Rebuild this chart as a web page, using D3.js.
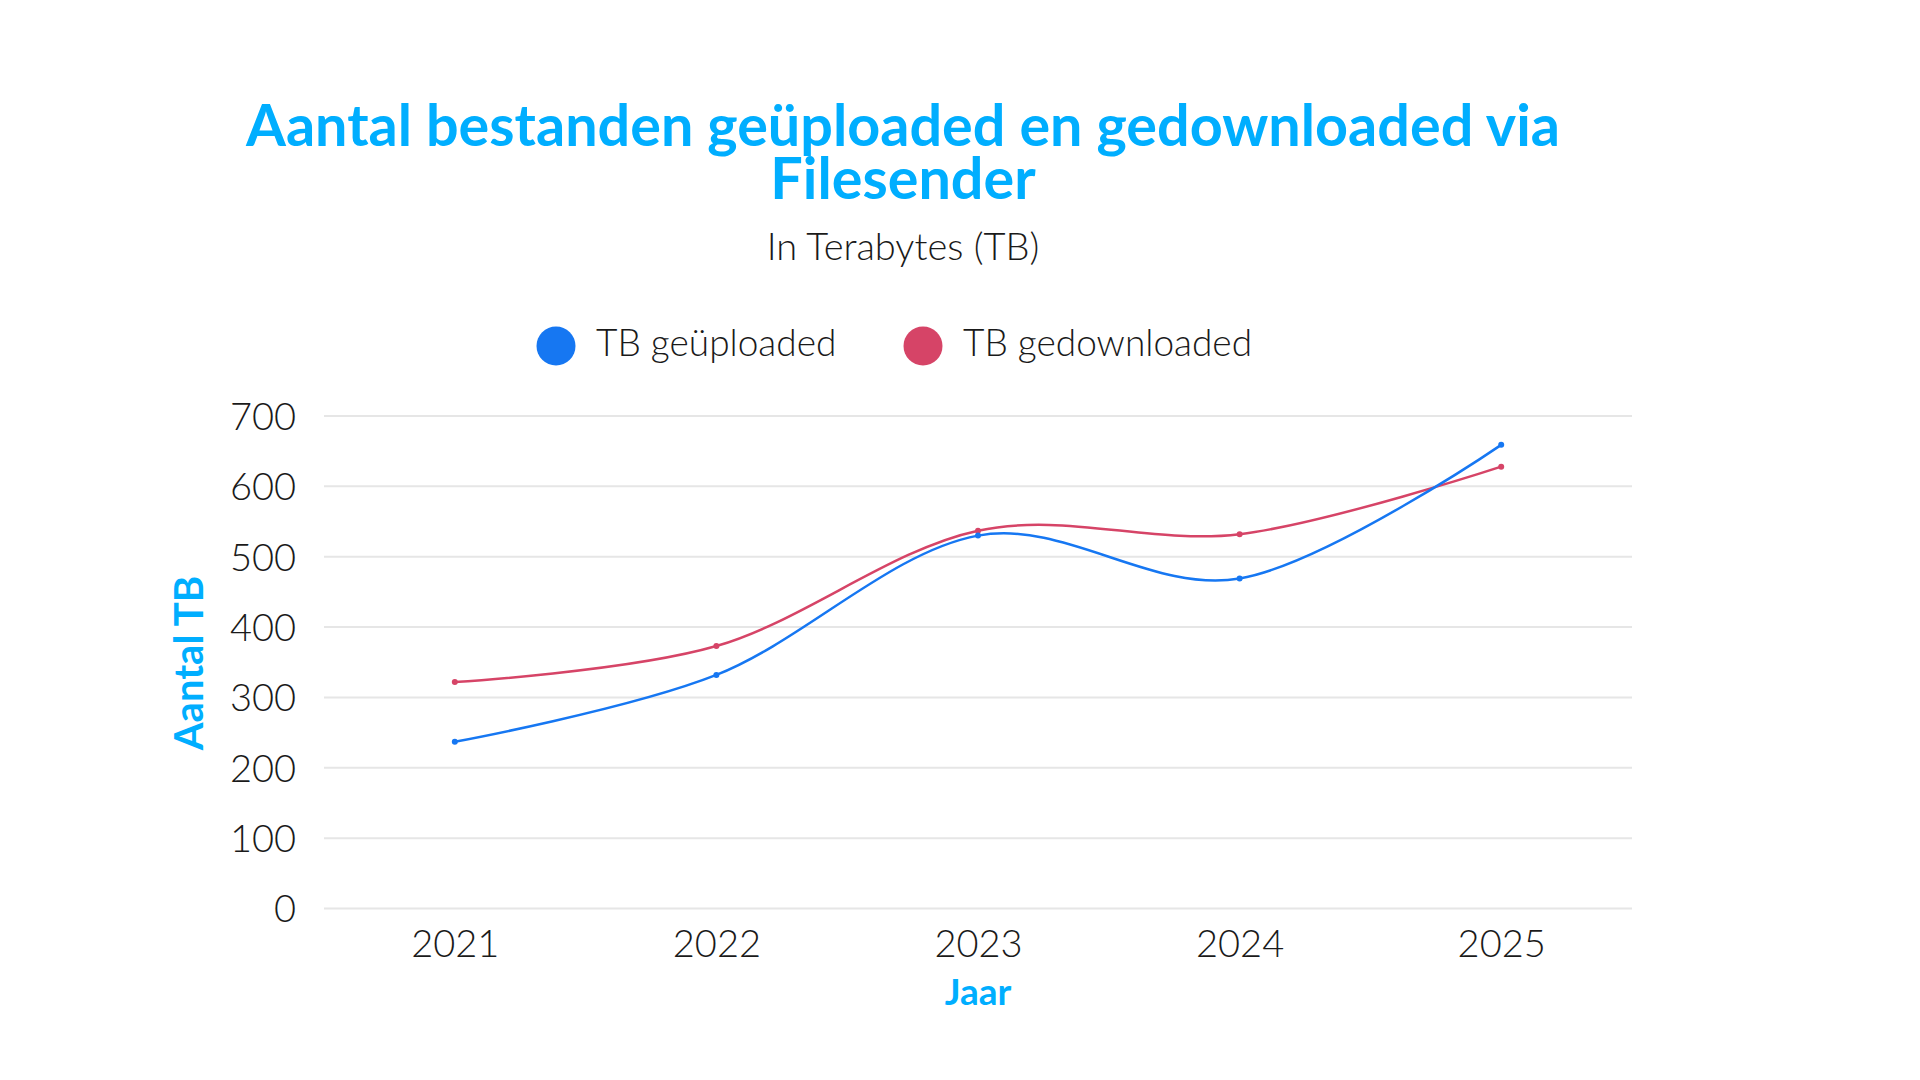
<!DOCTYPE html>
<html>
<head>
<meta charset="utf-8">
<script src="https://cdn.jsdelivr.net/npm/d3@7"></script>
<style>
  html, body { margin: 0; padding: 0; background: #ffffff; }
  svg { display: block; }
</style>
</head>
<body>
<svg id="chart" width="1920" height="1080"></svg>
<script>
// ---- Data ----
const years = ["2021", "2022", "2023", "2024", "2025"];
const uploaded = [237, 332, 530, 469, 659];
const downloaded = [322, 373, 537, 532, 628];
const yTicks = [0, 100, 200, 300, 400, 500, 600, 700];
const seriesNames = ["TB geüploaded", "TB gedownloaded"];
const seriesColors = ["#1677f2", "#d64467"];
const titleLines = ["Aantal bestanden geüploaded en gedownloaded via", "Filesender"];
const subtitle = "In Terabytes (TB)";
const xTitle = "Jaar";
const yTitle = "Aantal TB";

// ---- Layout ----
const W = 1920, H = 1080;
const plot = { left: 324, right: 1632, top: 416, bottom: 908.5 };
const accent = "#00aeff";
const textColor = "#1a1a1a";
const lightFont = "Lato, 'Noto Sans', sans-serif";

const svg = d3.select("#chart");

const x = d3.scalePoint().domain(years).range([plot.left, plot.right]).padding(0.5);
const y = d3.scaleLinear().domain([0, 700]).range([plot.bottom, plot.top]);

// Title (one text element, two lines)
const titleCenter = 903;
svg.append("text")
  .attr("text-anchor", "middle")
  .attr("font-family", lightFont)
  .attr("font-weight", 700)
  .attr("font-size", 57.5)
  .attr("fill", accent)
  .selectAll("tspan").data(titleLines).join("tspan")
  .attr("x", titleCenter)
  .attr("y", (d, i) => 145.5 + i * 53)
  .text(d => d);

svg.append("text")
  .attr("x", titleCenter).attr("y", 260)
  .attr("text-anchor", "middle")
  .attr("font-family", lightFont)
  .attr("font-weight", 300)
  .attr("font-size", 38)
  .attr("fill", textColor)
  .text(subtitle);

// Legend
const legendX = [556, 923];
const legend = svg.append("g").selectAll("g").data(seriesNames).join("g")
  .attr("transform", (d, i) => `translate(${legendX[i]},346)`);
legend.append("circle").attr("r", 19.5).attr("fill", (d, i) => seriesColors[i]);
legend.append("text")
  .attr("x", 40).attr("y", 9.5)
  .attr("font-family", lightFont)
  .attr("font-weight", 300)
  .attr("font-size", 37)
  .attr("fill", textColor)
  .text(d => d);

// Grid lines
svg.append("g").selectAll("line").data(yTicks).join("line")
  .attr("x1", plot.left).attr("x2", plot.right)
  .attr("y1", d => y(d)).attr("y2", d => y(d))
  .attr("stroke", "#e6e6e6").attr("stroke-width", 2);

// Y axis (labels only)
const yAxis = svg.append("g")
  .attr("transform", `translate(${plot.left - 28},0)`)
  .call(d3.axisLeft(y).tickValues(yTicks).tickSize(0).tickPadding(0).tickFormat(d3.format("d")));
yAxis.select(".domain").remove();
yAxis.selectAll("text")
  .attr("font-family", lightFont).attr("font-weight", 300)
  .attr("font-size", 38).attr("fill", textColor).attr("dy", "0.35em");

// X axis (labels only)
const xAxis = svg.append("g")
  .attr("transform", `translate(0,${plot.bottom})`)
  .call(d3.axisBottom(x).tickSize(0).tickPadding(0));
xAxis.select(".domain").remove();
xAxis.selectAll("text")
  .attr("font-family", lightFont).attr("font-weight", 300)
  .attr("font-size", 38).attr("fill", textColor)
  .attr("dy", null).attr("y", 48.5);

// Axis titles
svg.append("text")
  .attr("x", (plot.left + plot.right) / 2).attr("y", 1005)
  .attr("text-anchor", "middle")
  .attr("font-family", lightFont).attr("font-weight", 700)
  .attr("font-size", 37).attr("fill", accent)
  .text(xTitle);

svg.append("text")
  .attr("transform", `translate(203,663) rotate(-90)`)
  .attr("text-anchor", "middle")
  .attr("font-family", lightFont).attr("font-weight", 700)
  .attr("font-size", 40).attr("fill", accent)
  .text(yTitle);

// Lines
const series = [uploaded, downloaded];
const line = d3.line().x((d, i) => x(years[i])).y(d => y(d)).curve(d3.curveCardinal.tension(0));

const order = [1, 0];
order.forEach(si => {
  svg.append("path")
    .datum(series[si])
    .attr("d", line)
    .attr("fill", "none")
    .attr("stroke", seriesColors[si])
    .attr("stroke-width", 2.5);
});
order.forEach(si => {
  svg.append("g").selectAll("circle").data(series[si]).join("circle")
    .attr("cx", (d, i) => x(years[i]))
    .attr("cy", d => y(d))
    .attr("r", 3)
    .attr("fill", seriesColors[si]);
});
</script>
</body>
</html>
